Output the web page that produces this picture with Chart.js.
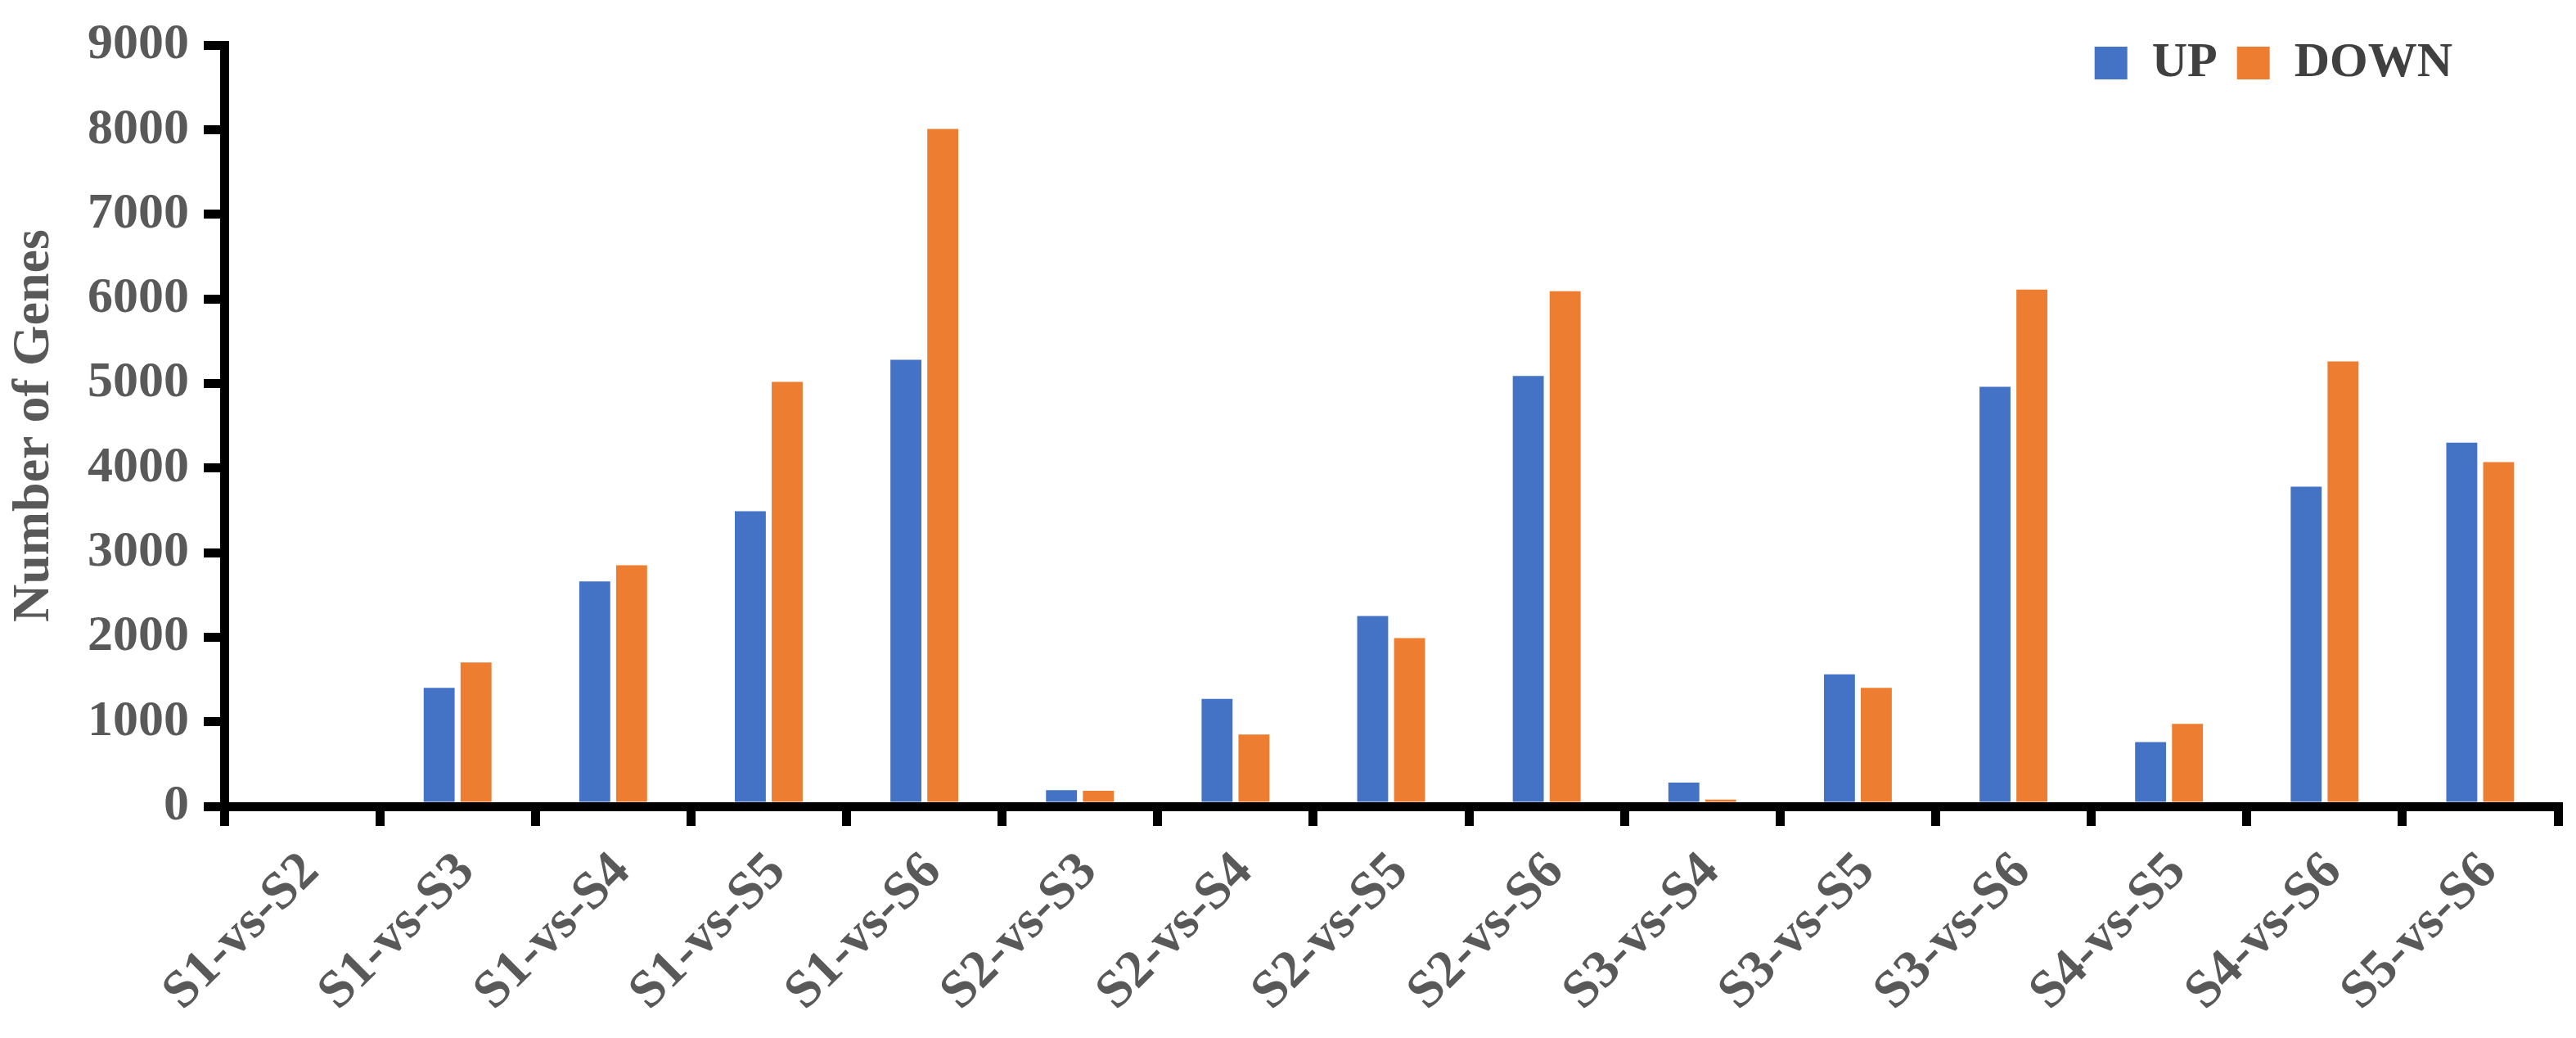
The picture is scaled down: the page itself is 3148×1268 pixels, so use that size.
<!DOCTYPE html>
<html>
<head>
<meta charset="utf-8">
<script src="https://cdn.jsdelivr.net/npm/chart.js@4/dist/chart.umd.min.js"></script>
<style>
  html, body { margin: 0; padding: 0; background: #fff; }
  canvas { display: block; }
</style>
</head>
<body>
<canvas id="genes" width="3148" height="1268"></canvas>
<script>
const categories = ['S1-vs-S2', 'S1-vs-S3', 'S1-vs-S4', 'S1-vs-S5', 'S1-vs-S6',
                    'S2-vs-S3', 'S2-vs-S4', 'S2-vs-S5', 'S2-vs-S6', 'S3-vs-S4',
                    'S3-vs-S5', 'S3-vs-S6', 'S4-vs-S5', 'S4-vs-S6', 'S5-vs-S6'];
const upGenes   = [0, 1400, 2660, 3490, 5280, 190, 1270, 2250, 5090, 280, 1560, 4960, 760, 3780, 4300];
const downGenes = [0, 1700, 2850, 5020, 8010, 185, 850, 1990, 6090, 80, 1400, 6110, 975, 5260, 4070];
const yTicks = [0, 1000, 2000, 3000, 4000, 5000, 6000, 7000, 8000, 9000];

const serif = "'Liberation Serif', 'Times New Roman', serif";
const grey = '#595959';

// the legend sits inside the plot, top right, so it must not take room from the chart area
const legendPlace = {
    id: 'legendPlace',
    beforeLayout(chart) {
        let lg = chart.legend;
        if (lg && !lg.patched) {
            const fit = lg.fit;
            lg.fit = function () {
                fit.call(this);
                this.fullHeight = this.height;
                this.height = 0;
            };
            lg.patched = true;
        }
    },
    afterLayout(chart) {
        let lg = chart.legend;
        lg.top = 23;
        lg.height = lg.fullHeight;
        lg.bottom = lg.top + lg.fullHeight;
        lg.left -= 105;
        lg.right -= 105;
    }
};

new Chart(document.getElementById('genes').getContext('2d'), {
    type: 'bar',
    data: {
        labels: categories,
        datasets: [{
            label: 'UP',
            data: upGenes,
            backgroundColor: '#4472C4',
            borderWidth: 0,
            barPercentage: 0.84,
            categoryPercentage: 0.474
        }, {
            label: 'DOWN',
            data: downGenes,
            backgroundColor: '#ED7D31',
            borderWidth: 0,
            barPercentage: 0.84,
            categoryPercentage: 0.474
        }]
    },
    options: {
        responsive: false,
        animation: false,
        layout: { padding: { top: 43, right: 22, left: 0, bottom: 0 } },
        plugins: {
            tooltip: { enabled: false },
            legend: {
                position: 'top',
                align: 'end',
                labels: {
                    boxWidth: 40,
                    boxHeight: 40,
                    padding: 24,
                    color: '#404040',
                    font: { family: serif, size: 60, weight: 'bold' }
                }
            }
        },
        scales: {
            x: {
                z: 1,
                border: { display: true, color: '#000', width: 11 },
                grid: {
                    offset: true,
                    drawOnChartArea: false,
                    drawTicks: true,
                    tickLength: 24,
                    lineWidth: 11,
                    color: '#000'
                },
                ticks: {
                    autoSkip: false,
                    maxRotation: 45,
                    minRotation: 45,
                    padding: 18,
                    labelOffset: 11,
                    color: grey,
                    font: { family: serif, size: 65, weight: 'bold' }
                },
                afterFit: s => { s.height = 283; }
            },
            y: {
                z: 1,
                min: 0,
                max: 9000,
                afterBuildTicks: s => { s.ticks = yTicks.map(v => ({ value: v })); },
                border: { display: true, color: '#000', width: 11 },
                grid: {
                    drawOnChartArea: false,
                    drawTicks: true,
                    tickLength: 25,
                    lineWidth: 11,
                    color: '#000'
                },
                ticks: {
                    padding: 18,
                    color: grey,
                    font: { family: serif, size: 62, weight: 'bold' },
                    callback: v => String(v)
                },
                title: {
                    display: true,
                    text: 'Number of Genes',
                    color: grey,
                    padding: 4,
                    font: { family: serif, size: 64, weight: 'bold' }
                },
                afterFit: s => { s.width = 274; }
            }
        }
    },
    plugins: [legendPlace]
});
</script>
</body>
</html>
